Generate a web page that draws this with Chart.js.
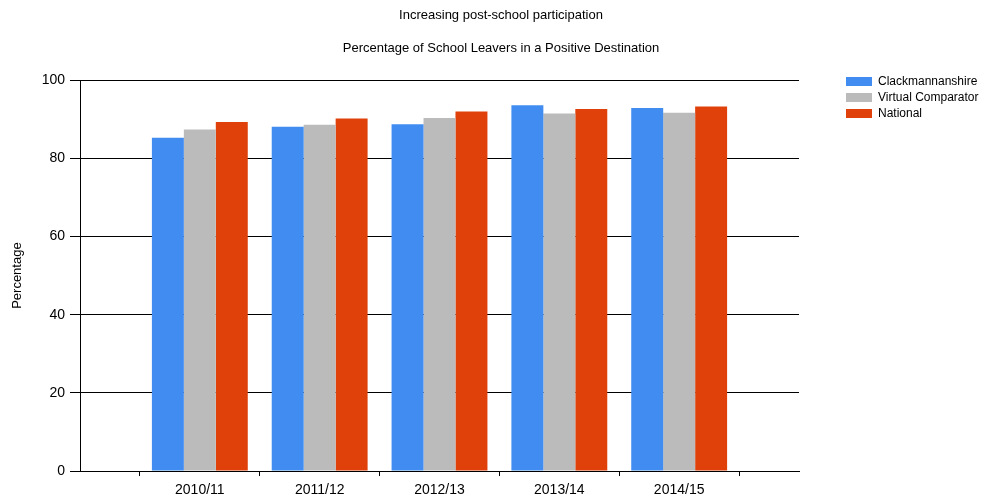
<!DOCTYPE html>
<html>
<head>
<meta charset="utf-8">
<script src="https://cdn.jsdelivr.net/npm/chart.js@4/dist/chart.umd.min.js"></script>
<style>
  html, body { margin: 0; padding: 0; background: #fff; }
  #wrap { position: relative; width: 986px; height: 502px; }
  #legend { position: absolute; left: 846px; top: 73px; font: 12px "Liberation Sans", Arial, sans-serif; color: #000; }
  .row { display: flex; align-items: center; height: 16px; white-space: nowrap; }
  .box { width: 26px; height: 9px; margin-right: 6px; }
</style>
</head>
<body>
<div id="wrap">
  <canvas id="myChart" width="986" height="502"></canvas>
  <div id="legend"></div>
</div>
<script>
"use strict";

const CATEGORIES = ["2010/11", "2011/12", "2012/13", "2013/14", "2014/15"];
const SERIES_NAMES = ["Clackmannanshire", "Virtual Comparator", "National"];
const CLACKMANNANSHIRE = [85.3, 88.1, 88.7, 93.6, 92.9];
const VIRTUAL_COMPARATOR = [87.4, 88.6, 90.3, 91.5, 91.7];
const NATIONAL = [89.3, 90.2, 92.0, 92.6, 93.3];
const COLORS = ["#418CF0", "#BBBBBB", "#E0400A"];
const Y_MIN = 0, Y_MAX = 100, Y_STEP = 20;

const FONT = "'Liberation Sans', Arial, sans-serif";

document.addEventListener("DOMContentLoaded", init);

function init()
{
    // empty slot on both sides, like the original axis
    let labels = [""].concat(CATEGORIES, [""]);
    let values = [CLACKMANNANSHIRE, VIRTUAL_COMPARATOR, NATIONAL];

    let datasets = values.map((arr, i) => ({
        label: SERIES_NAMES[i],
        data: [null].concat(arr, [null]),
        backgroundColor: COLORS[i],
        borderWidth: 0,
        categoryPercentage: 0.8,
        barPercentage: 1
    }));

    buildLegend(datasets);

    const config = {
        type: "bar",
        data: { labels: labels, datasets: datasets },
        options: {
            responsive: false,
            animation: false,
            layout: { padding: { left: 16, right: 0, top: 0, bottom: 0 } },
            plugins: {
                legend: { display: false },
                tooltip: { enabled: false },
                title: {
                    display: true,
                    text: "Increasing post-school participation",
                    color: "#000",
                    font: { family: FONT, size: 13, weight: "normal" },
                    padding: { top: 8, bottom: 17 }
                },
                subtitle: {
                    display: true,
                    text: "Percentage of School Leavers in a Positive Destination",
                    color: "#000",
                    font: { family: FONT, size: 13, weight: "normal" },
                    padding: { top: 0, bottom: 24 }
                }
            },
            scales: {
                x: {
                    offset: false,
                    grid: { offset: true, drawOnChartArea: false, drawTicks: true, tickLength: 5, color: "#000" },
                    border: { display: true, color: "#000" },
                    ticks: { color: "#000", font: { family: FONT, size: 14 }, padding: 6, autoSkip: false, maxRotation: 0 },
                    afterFit: function (scale) { scale.height = 31; }
                },
                y: {
                    min: Y_MIN,
                    max: Y_MAX,
                    grid: { color: "#000", tickLength: 10 },
                    border: { display: true, color: "#000" },
                    ticks: { stepSize: Y_STEP, color: "#000", font: { family: FONT, size: 14 }, padding: 5 },
                    title: {
                        display: true,
                        text: "Percentage",
                        color: "#000",
                        font: { family: FONT, size: 13 },
                        padding: { top: -6, bottom: 0 }
                    },
                    afterFit: function (scale) { scale.width = 64; }
                },
                // empty scale that keeps room on the right for the legend
                spacer: {
                    type: "linear",
                    position: "right",
                    grid: { display: false },
                    border: { display: false },
                    ticks: { display: false },
                    afterFit: function (scale) { scale.width = 187; }
                }
            }
        }
    };

    new Chart(document.getElementById("myChart"), config);
}

function buildLegend(datasets)
{
    let html = "";
    datasets.forEach(ds => {
        html += `<div class="row"><span class="box" style="background:${ds.backgroundColor}"></span>${ds.label}</div>`;
    });
    document.getElementById("legend").innerHTML = html;
}
</script>
</body>
</html>
